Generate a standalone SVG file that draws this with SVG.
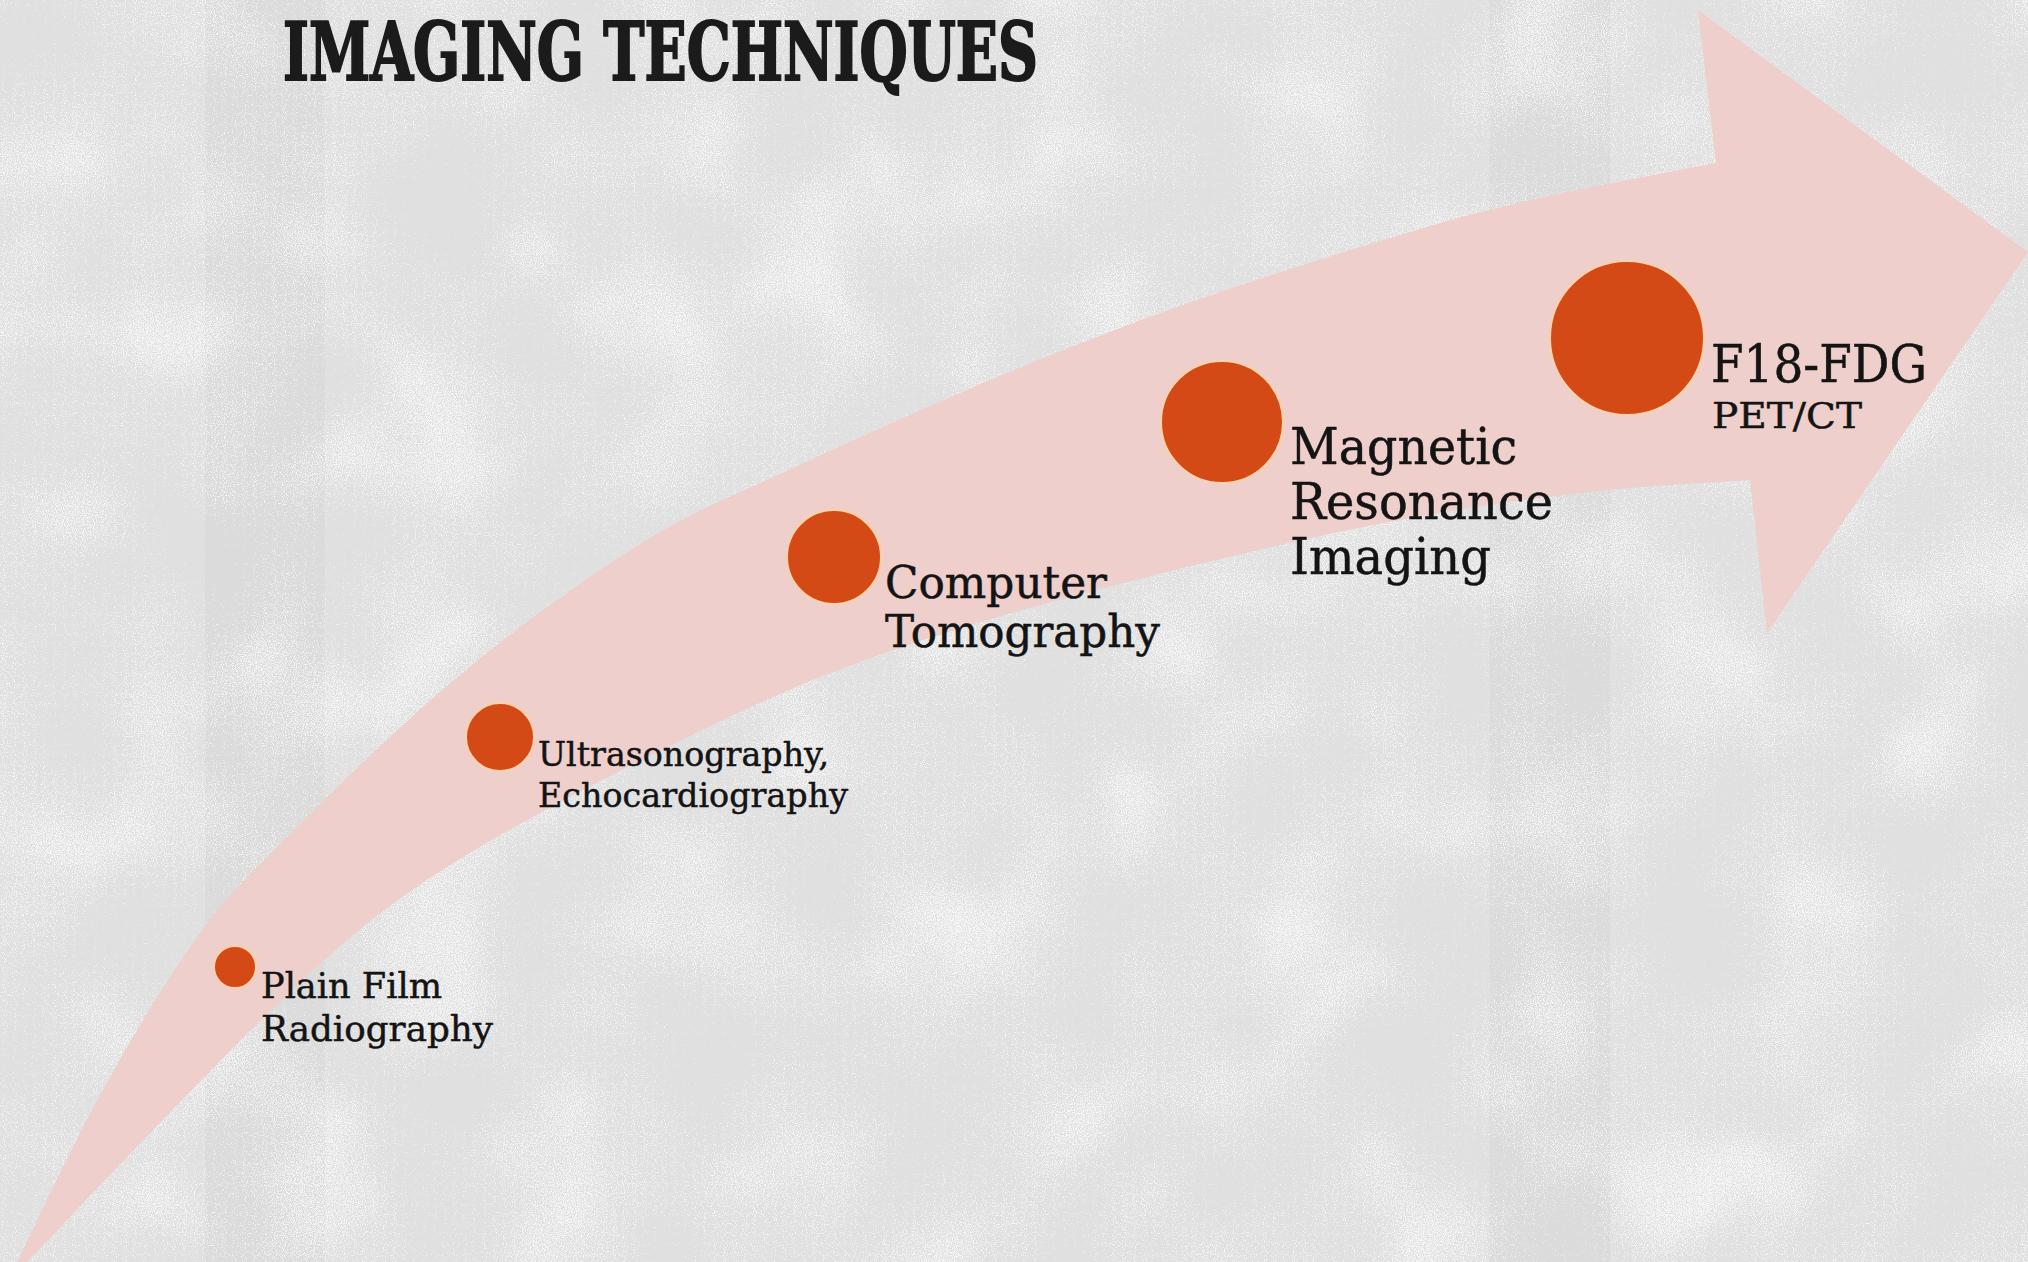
<svg xmlns="http://www.w3.org/2000/svg" width="2028" height="1262" viewBox="0 0 2028 1262">
  <defs>
    <filter id="grain" x="0" y="0" width="100%" height="100%" color-interpolation-filters="sRGB">
      <feTurbulence type="fractalNoise" baseFrequency="0.9" numOctaves="1" seed="4" result="fineRaw"/>
      <feColorMatrix in="fineRaw" type="matrix" values="1 0 0 0 0  0 1 0 0 0  0 0 1 0 0  0 0 0 0 1" result="fine"/>
      <feTurbulence type="fractalNoise" baseFrequency="0.008 0.008" numOctaves="2" seed="9" result="coarseRaw"/>
      <feColorMatrix in="coarseRaw" type="matrix" values="1 0 0 0 0  0 1 0 0 0  0 0 1 0 0  0 0 0 0 1" result="coarse"/>
      <feComposite in="fine" in2="coarse" operator="arithmetic" k1="0" k2="1" k3="0.5" k4="-0.25" result="mix"/>
      <feColorMatrix in="mix" type="matrix" values="0 0 0 0 1  0 0 0 0 1  0 0 0 0 1  8 0 0 0 -4.4"/>
    </filter>
    <style>
      .dot { fill: #d44a17; stroke: #fbd2a9; stroke-width: 2; }
      .label { font-family: "DejaVu Serif", "Liberation Serif", serif; fill: #141414; stroke: #141414; stroke-width: 0.5; }
      .title { font-family: "DejaVu Serif Condensed", "DejaVu Serif", serif; font-weight: bold; fill: #1b1b1b; stroke: #1b1b1b; stroke-width: 2; }
    </style>
  </defs>

  <!-- textured grey backdrop -->
  <g id="background">
    <rect width="2028" height="1262" fill="#e0e0e0"/>
    <rect x="205" y="0" width="120" height="1262" fill="#d6d6d6" opacity="0.5"/>
    <rect x="1490" y="0" width="120" height="1262" fill="#d6d6d6" opacity="0.5"/>
    <rect width="2028" height="1262" filter="url(#grain)" opacity="0.65"/>
  </g>

  <!-- heading -->
  <g id="title">
    <text class="title" x="283" y="80" font-size="80" textLength="755" lengthAdjust="spacingAndGlyphs">IMAGING TECHNIQUES</text>
  </g>

  <!-- curved rising arrow -->
  <g id="connectors">
    <path id="arrow" fill="#eecfcb"
      d="M 7 1283 L 17 1262 L 58.5 1176 Q 100 1090 150 1008.5 Q 200 927 236.5 888.5 Q 273 850 336.5 788 Q 400 726 450 683.5 Q 500 641 550 605 Q 600 569 640 544 Q 680 519 730 496.5 Q 780 474 830 451 Q 880 428 930 406 Q 980 384 1030 363.5 Q 1080 343 1140 320.5 Q 1200 298 1275 274 Q 1350 250 1425 227.5 Q 1500 205 1608 184 L 1716 163
         L 1698 10 L 2028 252 L 1767 633 L 1750 480
         L 1670 485 Q 1590 490 1495 504 Q 1400 518 1300 540.5 Q 1200 563 1100 589 Q 1000 615 918.5 641.5 Q 837 668 768.5 699 Q 700 730 616.5 772.5 Q 533 815 466.5 855 Q 400 895 350 937.5 Q 300 980 233.5 1047.5 Q 167 1115 97 1188.5 L 27 1262 Z"/>
  </g>

  <g id="node-plain-film">
    <circle class="dot" cx="235" cy="967" r="21"/>
    <text class="label" font-size="36">
      <tspan x="261" y="998" textLength="181" lengthAdjust="spacingAndGlyphs">Plain Film</tspan>
      <tspan x="261" y="1041" textLength="232" lengthAdjust="spacingAndGlyphs">Radiography</tspan>
    </text>
  </g>

  <g id="node-ultrasound">
    <circle class="dot" cx="500" cy="737" r="34"/>
    <text class="label" font-size="34">
      <tspan x="538" y="766" textLength="291" lengthAdjust="spacingAndGlyphs">Ultrasonography,</tspan>
      <tspan x="538" y="807" textLength="310" lengthAdjust="spacingAndGlyphs">Echocardiography</tspan>
    </text>
  </g>

  <g id="node-ct">
    <circle class="dot" cx="834" cy="557" r="47"/>
    <text class="label" font-size="44">
      <tspan x="885" y="598" textLength="222" lengthAdjust="spacingAndGlyphs">Computer</tspan>
      <tspan x="885" y="647" textLength="275" lengthAdjust="spacingAndGlyphs">Tomography</tspan>
    </text>
  </g>

  <g id="node-mri">
    <circle class="dot" cx="1222" cy="422" r="61"/>
    <text class="label" font-size="50">
      <tspan x="1290" y="464" textLength="227" lengthAdjust="spacingAndGlyphs">Magnetic</tspan>
      <tspan x="1290" y="519" textLength="263" lengthAdjust="spacingAndGlyphs">Resonance</tspan>
      <tspan x="1290" y="574" textLength="201" lengthAdjust="spacingAndGlyphs">Imaging</tspan>
    </text>
  </g>

  <g id="node-pet">
    <circle class="dot" cx="1627" cy="338" r="77"/>
    <text class="label">
      <tspan x="1711" y="382" font-size="52" textLength="216" lengthAdjust="spacingAndGlyphs">F18-FDG</tspan>
      <tspan x="1712" y="428" font-size="36" textLength="150" lengthAdjust="spacingAndGlyphs">PET/CT</tspan>
    </text>
  </g>
</svg>
